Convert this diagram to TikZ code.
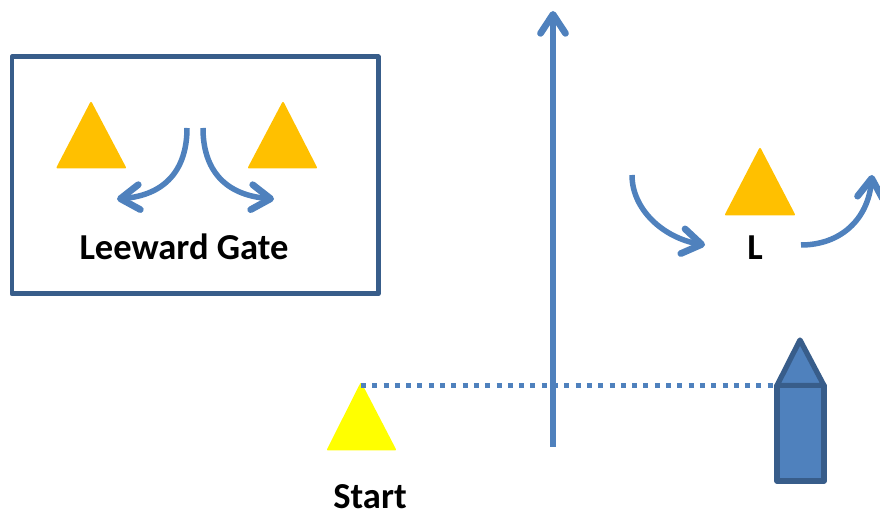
\documentclass[tikz,border=0pt]{standalone}
\usepackage{fontspec}
\setmainfont{Carlito}
\usetikzlibrary{arrows.meta}

\definecolor{sailblue}{HTML}{4F81BD}
\definecolor{hullblue}{HTML}{385D8A}
\definecolor{buoyorange}{HTML}{FFC000}
\definecolor{buoyyellow}{HTML}{FFFF00}

\tikzset{
	course/.style={draw=sailblue,line width=0.11cm,-{Straight Barb[length=0.38cm,width=0.5cm,round,line width=0.135cm]}},
	buoy/.style={line width=0.04cm,line join=round,fill=#1,draw=#1},
	boat/.style={draw=hullblue,fill=sailblue,line width=0.105cm,line join=round},
	marktext/.style={font=\bfseries\fontsize{20.8}{24}\selectfont,inner sep=0pt},
}

\begin{document}
\begin{tikzpicture}[x=0.02cm,y=-0.02cm]
	\useasboundingbox (0,0) rectangle (880,516);

	\draw [hullblue,line width=0.1cm,line join=round] (12,57) rectangle (378,294);

	\path [buoy=buoyorange] (91,103) -- (125,167.5) -- (57.5,167.5) -- cycle;
	\path [buoy=buoyorange] (283,103) -- (316,167.5) -- (249,167.5) -- cycle;
	\path [buoy=buoyorange] (760,149) -- (794,214.5) -- (726,214.5) -- cycle;
	\path [buoy=buoyyellow] (361,384) -- (395,449.5) -- (328,449.5) -- cycle;

	\coordinate (gateL) at (187,128);
	\coordinate (gateLend) at (117,199);
	\coordinate (gateR) at (203,128);
	\coordinate (gateRend) at (274,199);
	\coordinate (markin) at (632,175);
	\coordinate (markinend) at (705,245);
	\coordinate (markout) at (801,245);
	\coordinate (markoutend) at (872,175);
	\coordinate (windbase) at (553,447);
	\coordinate (windtop) at (553,11);
	\coordinate (pin) at (361,385.5);
	\coordinate (committee) at (777,385.5);

	\draw [course] (gateL) .. controls (187,170) and (165,195) .. (gateLend);
	\draw [course] (gateR) .. controls (203,170) and (225,195) .. (gateRend);
	\draw [course] (markin) .. controls (632,210) and (664,238) .. (markinend);
	\draw [course] (markout) .. controls (840,245) and (868,220) .. (markoutend);
	\draw [course] (windbase) -- (windtop);

	\draw [sailblue,line width=0.1cm,dash pattern=on 0.1cm off 0.126cm] (pin) -- (committee);

	\draw [boat] (800,340) -- (824,385.5) -- (777,385.5) -- cycle;
	\draw [boat] (777,385.5) rectangle (824,481);

	\node [marktext] (gatelabel) at (184,247) {Leeward Gate};
	\node [marktext] (marklabel) at (755,248) {L};
	\node [marktext] (startlabel) at (370,497) {Start};
\end{tikzpicture}
\end{document}
